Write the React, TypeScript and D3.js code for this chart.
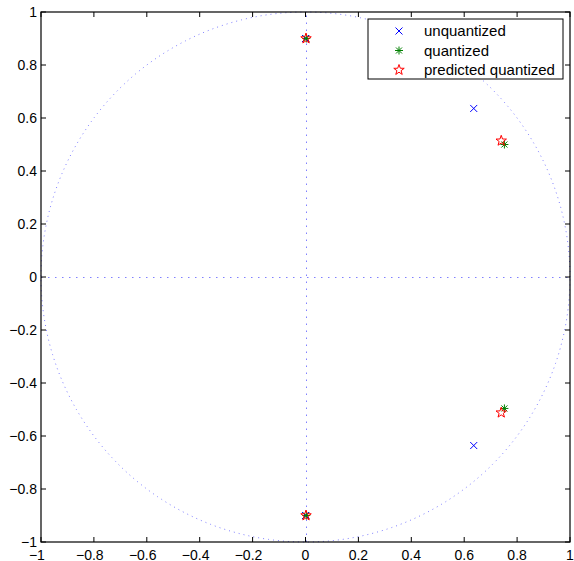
import React, { useEffect, useRef } from "react";
import * as d3 from "d3";

// pole locations
const unquantized = [
  { x: 0.636, y: 0.636 },
  { x: 0.636, y: -0.636 },
  { x: 0, y: 0.9 },
  { x: 0, y: -0.9 },
];
const quantized = [
  { x: 0.752, y: 0.5 },
  { x: 0.752, y: -0.496 },
  { x: 0.003, y: 0.9 },
  { x: 0.003, y: -0.9 },
];
const predicted = [
  { x: 0.74, y: 0.514 },
  { x: 0.74, y: -0.512 },
  { x: 0.002, y: 0.9 },
  { x: 0.002, y: -0.9 },
];
const ticks = [-1, -0.8, -0.6, -0.4, -0.2, 0, 0.2, 0.4, 0.6, 0.8, 1];
const legendLabels = ["unquantized", "quantized", "predicted quantized"];

const fmt = (v: number) => {
  const s = d3.format("")(+v.toFixed(1));
  return s.replace("-", "\u2212");
};

const starPath = (r: number) => {
  const pts: string[] = [];
  for (let i = 0; i < 10; i++) {
    const a = -Math.PI / 2 + (i * Math.PI) / 5;
    const rr = i % 2 === 0 ? r : r * 0.4;
    pts.push(`${(rr * Math.cos(a)).toFixed(2)},${(rr * Math.sin(a)).toFixed(2)}`);
  }
  return "M" + pts.join("L") + "Z";
};

const App = () => {
  const ref = useRef<SVGSVGElement>(null);

  useEffect(() => {
    const svg = d3.select(ref.current);
    svg.selectAll("*").remove();

    const margin = { top: 12, right: 4, bottom: 19, left: 41 };
    const W = 574, H = 561;
    const x = d3.scaleLinear().domain([-1, 1]).range([margin.left, W - margin.right]);
    const y = d3.scaleLinear().domain([-1, 1]).range([H - margin.bottom, margin.top]);

    const font = "Liberation Sans, Arial, Helvetica, sans-serif";
    const dotColor = "#8080ff";

    svg.append("rect").attr("width", W).attr("height", H).attr("fill", "white");

    // unit circle + axes, dotted
    const circle = d3.range(0, 361, 1).map((d) => [
      x(Math.cos((d * Math.PI) / 180)),
      y(Math.sin((d * Math.PI) / 180)),
    ] as [number, number]);
    svg.append("path")
      .attr("d", d3.line()(circle))
      .attr("fill", "none")
      .attr("stroke", dotColor)
      .attr("stroke-width", 1)
      .attr("stroke-dasharray", "1,4");
    svg.append("line")
      .attr("x1", x(-1)).attr("x2", x(1)).attr("y1", Math.round(y(0)) + 0.5).attr("y2", Math.round(y(0)) + 0.5)
      .attr("stroke", dotColor).attr("stroke-dasharray", "1.5,5.5");
    svg.append("line")
      .attr("x1", Math.round(x(0)) + 0.5).attr("x2", Math.round(x(0)) + 0.5).attr("y1", y(-1)).attr("y2", y(1))
      .attr("stroke", dotColor).attr("stroke-dasharray", "1.5,5.5");

    // axes with inward ticks on all sides
    const tl = 5;
    const g = svg.append("g").attr("stroke", "black").attr("stroke-width", 1);
    ticks.forEach((t) => {
      g.append("line").attr("x1", x(t)).attr("x2", x(t)).attr("y1", y(-1)).attr("y2", y(-1) - tl);
      g.append("line").attr("x1", x(t)).attr("x2", x(t)).attr("y1", y(1)).attr("y2", y(1) + tl);
      g.append("line").attr("y1", y(t)).attr("y2", y(t)).attr("x1", x(-1)).attr("x2", x(-1) + tl);
      g.append("line").attr("y1", y(t)).attr("y2", y(t)).attr("x1", x(1)).attr("x2", x(1) - tl);
    });
    svg.append("rect")
      .attr("x", x(-1)).attr("y", y(1))
      .attr("width", x(1) - x(-1)).attr("height", y(-1) - y(1))
      .attr("fill", "none").attr("stroke", "black").attr("stroke-width", 1.2);

    // x labels: digits centred on the tick, minus sign hanging to the left
    ticks.forEach((t) => {
      const num = svg.append("text")
        .attr("x", x(t)).attr("y", y(-1) + 17.5)
        .attr("text-anchor", "middle")
        .attr("font-family", font).attr("font-size", 14)
        .text(fmt(Math.abs(t)));
      if (t < 0) {
        const w = (num.node() as SVGTextElement).getComputedTextLength();
        svg.append("text")
          .attr("x", x(t) - w / 2).attr("y", y(-1) + 17.5)
          .attr("text-anchor", "end")
          .attr("font-family", font).attr("font-size", 14)
          .text("\u2212");
      }
    });
    svg.selectAll(".yl").data(ticks).enter().append("text")
      .attr("x", x(-1) - 4).attr("y", (d) => y(d) + 5)
      .attr("text-anchor", "end")
      .attr("font-family", font).attr("font-size", 14)
      .text((d) => fmt(d));

    // markers
    const drawX = (sel: any, color: string) =>
      sel.append("path").attr("d", "M-3.5,-3.5L3.5,3.5M-3.5,3.5L3.5,-3.5")
        .attr("stroke", color).attr("fill", "none").attr("stroke-width", 1);
    const drawStar = (sel: any, color: string) =>
      sel.append("path")
        .attr("d", "M-4,0L4,0M0,-4L0,4M-3,-3L3,3M-3,3L3,-3")
        .attr("stroke", color).attr("fill", "none").attr("stroke-width", 1);
    const drawPent = (sel: any, color: string) =>
      sel.append("path").attr("d", starPath(5.5))
        .attr("stroke", color).attr("fill", "none").attr("stroke-width", 1);

    const series = [
      { data: unquantized, color: "#0000ff", draw: drawX },
      { data: quantized, color: "#008000", draw: drawStar },
      { data: predicted, color: "#ff0000", draw: drawPent },
    ];
    series.forEach((s) => {
      s.data.forEach((p) => {
        const m = svg.append("g").attr("transform", `translate(${x(p.x)},${y(p.y)})`);
        s.draw(m, s.color);
      });
    });

    // legend
    const lg = svg.append("g").attr("transform", "translate(368,19)");
    lg.append("rect").attr("width", 195).attr("height", 60)
      .attr("fill", "white").attr("stroke", "black").attr("stroke-width", 1);
    legendLabels.forEach((lab, i) => {
      const row = lg.append("g").attr("transform", `translate(0,${12 + i * 19.5})`);
      const m = row.append("g").attr("transform", "translate(31,0)");
      series[i].draw(m, series[i].color);
      row.append("text").attr("x", 56).attr("y", 5)
        .attr("font-family", font).attr("font-size", 15).text(lab);
    });
  }, []);

  return <svg ref={ref} width={574} height={561} style={{ position: "absolute", left: 0, top: 0 }} />;
};

export default App;
